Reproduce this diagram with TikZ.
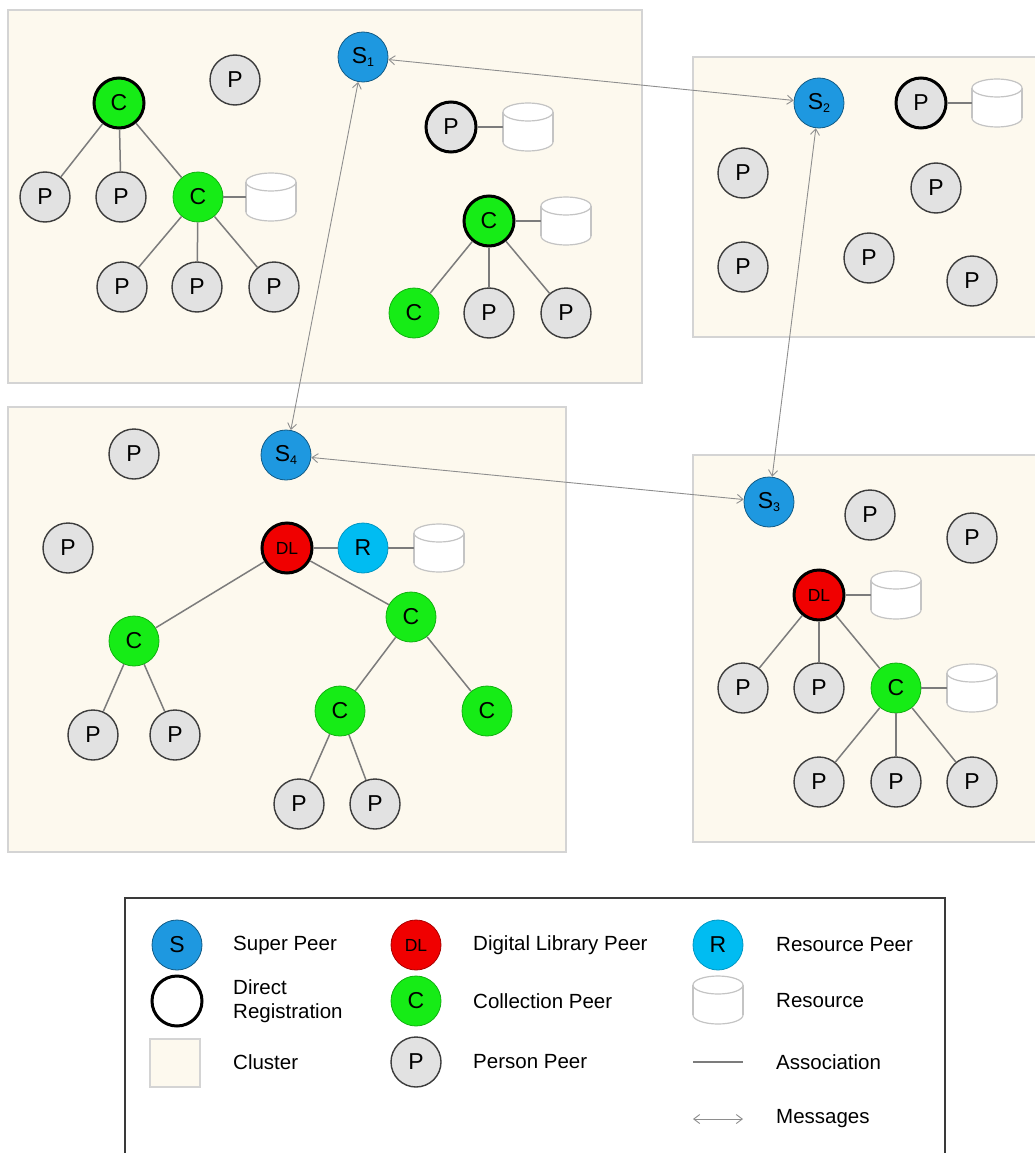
\documentclass[tikz,border=0pt]{standalone}
\usepackage{fontspec}
\setmainfont{Liberation Sans}
\usetikzlibrary{arrows.meta}
\definecolor{clfill}{HTML}{FDF9EE}
\definecolor{clborder}{HTML}{D4D4D4}
\definecolor{pgray}{HTML}{E2E2E2}
\definecolor{pborder}{HTML}{3C3C3C}
\definecolor{cgreen}{HTML}{16EC16}
\definecolor{sblue}{HTML}{1E98E0}
\definecolor{rblue}{HTML}{00BCF2}
\definecolor{dlred}{HTML}{F00000}
\definecolor{cylgray}{HTML}{C4C4C4}
\definecolor{assoc}{HTML}{7C7C7C}
\definecolor{msg}{HTML}{8E8E8E}
\definecolor{legborder}{HTML}{3A3A3A}
\tikzset{
  peer/.style={circle, minimum size=50pt, inner sep=0pt, line width=1.4pt, font=\fontsize{23}{23}\selectfont},
  pp/.style={peer, fill=pgray, draw=pborder},
  cp/.style={peer, fill=cgreen, draw=cgreen!75!black, line width=0.8pt},
  sp/.style={peer, fill=sblue, draw=sblue!60!black, line width=0.8pt},
  rp/.style={peer, fill=rblue, draw=rblue!80!black, line width=0.8pt},
  dlp/.style={peer, fill=dlred, draw=dlred!70!black, line width=0.8pt, font=\fontsize{17.5}{17.5}\selectfont},
  direct/.style={draw=black, line width=3pt},
  resbox/.style={rectangle, minimum width=50pt, minimum height=48pt, inner sep=0pt},
  cluster/.style={fill=clfill, draw=clborder, line width=1.5pt},
  assocline/.style={draw=assoc, line width=1.5pt},
  msgline/.style={draw=msg, line width=0.9pt, {Straight Barb[length=6pt,width=9pt]}-{Straight Barb[length=6pt,width=9pt]}},
  legtext/.style={anchor=west, font=\fontsize{20.5}{24}\selectfont, align=left, inner sep=0pt},
}
\newcommand{\resource}[2]{%
  \node[resbox] (#1) at (#2) {};
  \begin{scope}[shift={(#2)}]
    \filldraw[fill=white, draw=cylgray, line width=1.2pt] (0,15) ellipse [x radius=25, y radius=9];
    \fill[white] (-25,-15) rectangle (25,15);
    \draw[cylgray, line width=1.2pt] (-25,-15) -- (-25,15) (25,-15) -- (25,15);
    \filldraw[fill=white, draw=cylgray, line width=1.2pt] (0,-15) ellipse [x radius=25, y radius=9];
  \end{scope}}
\newcommand{\sub}[1]{{\fontsize{12.5}{12.5}\selectfont\raisebox{-3pt}{#1}}}
\begin{document}
\begin{tikzpicture}[x=1pt, y=-1pt]
\useasboundingbox (0,0) rectangle (1035,1153);
\fill[white] (0,0) rectangle (1035,1153);
\clip (0,0) rectangle (1035,1153);

% clusters
\draw[cluster] (8,10) rectangle (642,383);
\draw[cluster] (693,57) rectangle (1060,337);
\draw[cluster] (8,407) rectangle (566,852);
\draw[cluster] (693,455) rectangle (1060,842);

% ---- top-left cluster
\node[sp] (s1) at (363,57) {S\sub{1}};
\node[pp] (tlp0) at (235,80) {P};
\node[cp, direct] (tlc0) at (119,103) {C};
\node[pp] (tlp1) at (45,197) {P};
\node[pp] (tlp2) at (121,197) {P};
\node[cp] (tlc1) at (198,197) {C};
\resource{tlr1}{271,197}
\node[pp] (tlp3) at (122,287) {P};
\node[pp] (tlp4) at (197,287) {P};
\node[pp] (tlp5) at (274,287) {P};
\node[pp, direct] (tlp6) at (451,127) {P};
\resource{tlr2}{528,127}
\node[cp, direct] (tlc2) at (489,221) {C};
\resource{tlr3}{566,221}
\node[cp] (tlc3) at (414,313) {C};
\node[pp] (tlp7) at (489,313) {P};
\node[pp] (tlp8) at (566,313) {P};

\draw[assocline] (tlc0) -- (tlp1);
\draw[assocline] (tlc0) -- (tlp2);
\draw[assocline] (tlc0) -- (tlc1);
\draw[assocline] (tlc1) -- (tlr1);
\draw[assocline] (tlc1) -- (tlp3);
\draw[assocline] (tlc1) -- (tlp4);
\draw[assocline] (tlc1) -- (tlp5);
\draw[assocline] (tlp6) -- (tlr2);
\draw[assocline] (tlc2) -- (tlr3);
\draw[assocline] (tlc2) -- (tlc3);
\draw[assocline] (tlc2) -- (tlp7);
\draw[assocline] (tlc2) -- (tlp8);

% ---- top-right cluster
\node[sp] (s2) at (819,103) {S\sub{2}};
\node[pp, direct] (trp0) at (921,103) {P};
\resource{trr1}{997,103}
\node[pp] (trp1) at (743,173) {P};
\node[pp] (trp2) at (936,188) {P};
\node[pp] (trp3) at (743,267) {P};
\node[pp] (trp4) at (869,258) {P};
\node[pp] (trp5) at (972,281) {P};
\draw[assocline] (trp0) -- (trr1);

% ---- bottom-left cluster
\node[pp] (blp0) at (134,454) {P};
\node[sp] (s4) at (286,455) {S\sub{4}};
\node[pp] (blp1) at (68,548) {P};
\node[dlp, direct] (bldl) at (287,548) {DL};
\node[rp] (blr) at (363,548) {R};
\resource{blres}{439,548}
\node[cp] (blc0) at (134,641) {C};
\node[cp] (blc1) at (411,617) {C};
\node[cp] (blc2) at (340,711) {C};
\node[cp] (blc3) at (487,711) {C};
\node[pp] (blp2) at (93,735) {P};
\node[pp] (blp3) at (175,735) {P};
\node[pp] (blp4) at (299,804) {P};
\node[pp] (blp5) at (375,804) {P};

\draw[assocline] (bldl) -- (blr);
\draw[assocline] (blr) -- (blres);
\draw[assocline] (bldl) -- (blc0);
\draw[assocline] (bldl) -- (blc1);
\draw[assocline] (blc0) -- (blp2);
\draw[assocline] (blc0) -- (blp3);
\draw[assocline] (blc1) -- (blc2);
\draw[assocline] (blc1) -- (blc3);
\draw[assocline] (blc2) -- (blp4);
\draw[assocline] (blc2) -- (blp5);

% ---- bottom-right cluster
\node[sp] (s3) at (769,502) {S\sub{3}};
\node[pp] (brp0) at (870,515) {P};
\node[pp] (brp1) at (972,538) {P};
\node[dlp, direct] (brdl) at (819,595) {DL};
\resource{brr1}{896,595}
\node[pp] (brp2) at (743,688) {P};
\node[pp] (brp3) at (819,688) {P};
\node[cp] (brc0) at (896,688) {C};
\resource{brr2}{972,688}
\node[pp] (brp4) at (819,782) {P};
\node[pp] (brp5) at (896,782) {P};
\node[pp] (brp6) at (972,782) {P};

\draw[assocline] (brdl) -- (brr1);
\draw[assocline] (brdl) -- (brp2);
\draw[assocline] (brdl) -- (brp3);
\draw[assocline] (brdl) -- (brc0);
\draw[assocline] (brc0) -- (brr2);
\draw[assocline] (brc0) -- (brp4);
\draw[assocline] (brc0) -- (brp5);
\draw[assocline] (brc0) -- (brp6);

% ---- messages between super peers
\draw[msgline] (s1) -- (s2);
\draw[msgline] (s1) -- (s4);
\draw[msgline] (s2) -- (s3);
\draw[msgline] (s4) -- (s3);

% ---- legend
\draw[draw=legborder, line width=1.5pt, fill=white] (125,898) rectangle (945,1180);
\node[sp] (lgs) at (177,945) {S};
\node[legtext] (lgst) at (233,945) {Super Peer};
\node[peer, fill=white, direct] (lgdr) at (177,1001) {};
\node[legtext] (lgdrt) at (233,1001) {Direct\\Registration};
\node[cluster, rectangle, minimum width=50pt, minimum height=48pt, inner sep=0pt] (lgcl) at (175,1063) {};
\node[legtext] (lgclt) at (233,1062) {Cluster};

\node[dlp] (lgdl) at (416,945) {DL};
\node[legtext] (lgdlt) at (473,945) {Digital Library Peer};
\node[cp] (lgc) at (416,1001) {C};
\node[legtext] (lgct) at (473,1001) {Collection Peer};
\node[pp] (lgp) at (416,1062) {P};
\node[legtext] (lgpt) at (473,1062) {Person Peer};

\node[rp] (lgr) at (718,945) {R};
\node[legtext] (lgrt) at (776,945) {Resource Peer};
\resource{lgres}{718,1000}
\node[legtext] (lgrest) at (776,1001) {Resource};
\coordinate (lga1) at (693,1062);
\coordinate (lga2) at (743,1062);
\draw[assocline] (lga1) -- (lga2);
\node[legtext] (lgat) at (776,1062) {Association};
\coordinate (lgm1) at (693,1119);
\coordinate (lgm2) at (743,1119);
\draw[msgline] (lgm1) -- (lgm2);
\node[legtext] (lgmt) at (776,1119) {Messages};
\end{tikzpicture}
\end{document}
